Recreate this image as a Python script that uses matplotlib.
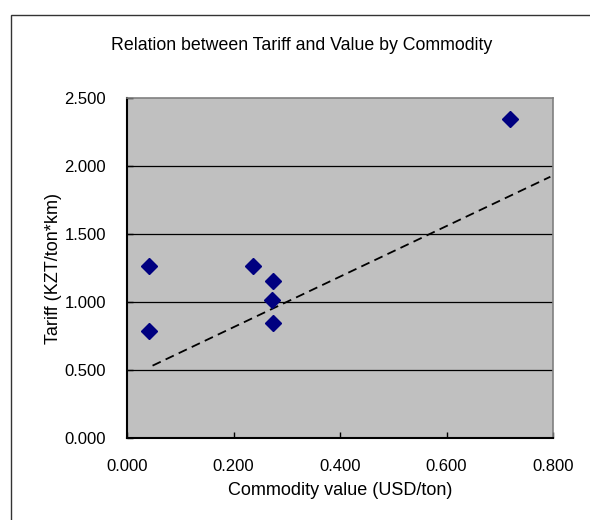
import matplotlib
matplotlib.use("Agg")
import matplotlib.pyplot as plt
from matplotlib.ticker import FormatStrFormatter
from matplotlib.patches import Rectangle

# commodity value (USD/ton) vs tariff (KZT/ton*km)
value = [0.041, 0.041, 0.237, 0.274, 0.272, 0.275, 0.720]
tariff = [1.267, 0.789, 1.267, 1.152, 1.012, 0.843, 2.346]

# trendline end points as drawn on the chart
trend_x = [0.048, 0.795]
trend_y = [0.532, 1.921]

x_ticks = [0.0, 0.2, 0.4, 0.6, 0.8]
y_ticks = [0.0, 0.5, 1.0, 1.5, 2.0, 2.5]

plt.rcParams['font.family'] = ['Liberation Sans', 'DejaVu Sans']

fig = plt.figure(figsize=(5.9, 5.2), dpi=100)
fig.patches.append(Rectangle((11 / 590, -0.1), 1.2, (520 - 15) / 520 + 0.1,
                             transform=fig.transFigure, fill=False,
                             edgecolor='#333333', linewidth=1.0))

ax = fig.add_axes([127 / 590, 82 / 520, 426 / 590, 340 / 520])
ax.set_facecolor('#c0c0c0')

for yv in y_ticks[1:-1]:
    ax.axhline(yv, color='black', linewidth=0.9, zorder=1)

ax.plot(trend_x, trend_y, color='black', linestyle=(0, (5, 3)), linewidth=1.3, zorder=2)
ax.plot(value, tariff, linestyle='none', marker='D', markersize=8,
        color='#000080', zorder=3)

ax.set_xlim(0, 0.8)
ax.set_ylim(0, 2.5)
ax.set_xticks(x_ticks)
ax.set_yticks(y_ticks)
ax.xaxis.set_major_formatter(FormatStrFormatter('%.3f'))
ax.yaxis.set_major_formatter(FormatStrFormatter('%.3f'))
ax.tick_params(direction='in', length=4, width=1, labelsize=12, color='black')
ax.tick_params(axis='x', pad=15)
ax.tick_params(axis='y', pad=15)

for side in ['left', 'bottom']:
    ax.spines[side].set_color('black')
    ax.spines[side].set_linewidth(1.5)
for side in ['right', 'top']:
    ax.spines[side].set_color('#808080')
    ax.spines[side].set_linewidth(1.2)

ax.set_xlabel('Commodity value (USD/ton)', fontsize=13, labelpad=6)
ax.set_ylabel('Tariff (KZT/ton*km)', fontsize=13, labelpad=2)
fig.text(302 / 590, 1 - 46 / 520, 'Relation between Tariff and Value by Commodity',
         ha='center', va='center', fontsize=12.8)

fig.savefig('out.png', dpi=100)
